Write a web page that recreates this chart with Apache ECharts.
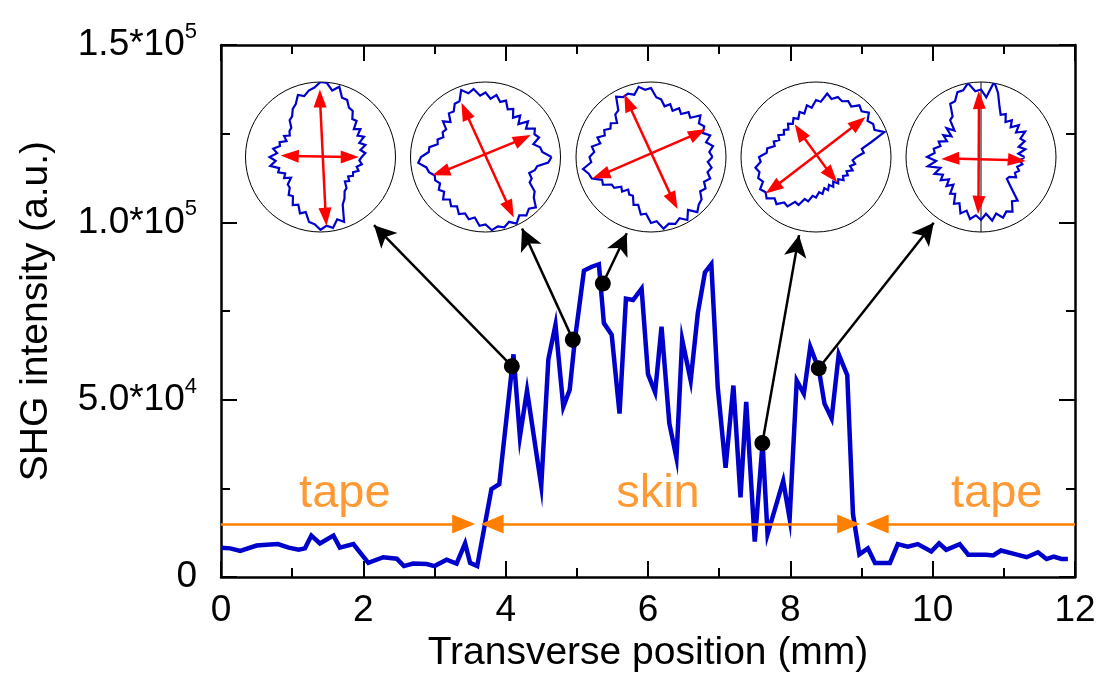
<!DOCTYPE html>
<html>
<head>
<meta charset="utf-8">
<script src="https://cdn.jsdelivr.net/npm/echarts@6/dist/echarts.min.js"></script>
<style>html,body{margin:0;padding:0;background:#fff}#c{width:1099px;height:678px}</style>
</head>
<body>
<div id="c"></div>
<script>
// ---------- main trace ----------
const positionMm = [0.00,0.13,0.27,0.50,0.64,0.80,0.95,1.09,1.18,1.27,1.39,1.58,1.67,1.86,2.07,2.28,2.47,2.57,2.70,2.89,3.00,3.17,3.31,3.43,3.50,3.60,3.80,3.91,4.11,4.20,4.30,4.50,4.60,4.70,4.81,4.90,4.97,5.10,5.21,5.31,5.38,5.49,5.60,5.69,5.79,5.91,6.00,6.10,6.19,6.30,6.40,6.48,6.60,6.70,6.80,6.89,6.98,7.09,7.20,7.30,7.38,7.50,7.61,7.68,7.90,7.99,8.09,8.19,8.28,8.40,8.48,8.58,8.68,8.80,8.88,8.97,9.09,9.19,9.40,9.51,9.65,9.79,9.98,10.09,10.19,10.38,10.50,10.75,10.85,10.96,11.13,11.32,11.48,11.60,11.70,11.81,11.90];
const shgIntensity = [8300,8100,7400,8900,9100,9300,8300,7700,8100,11700,9500,11700,8300,9300,4000,5600,5200,3100,3800,3700,3100,4900,3800,9500,4000,3100,24800,26200,62800,39600,52600,25700,61400,71100,48000,52800,66500,86400,87500,88200,71600,68300,46100,78500,78100,81300,57200,52100,70600,43300,33600,66900,55400,74400,85900,88200,53500,30800,54000,22500,49400,10000,37800,12100,27100,16500,55400,51700,64900,58600,48900,44700,62800,56900,17800,6400,8100,4000,4000,9300,8600,9300,7200,9500,7700,9300,6300,6300,6100,7500,6600,5600,7000,5100,5800,5100,5100];

// ---------- axis tick labels ----------
const xTickLabels = ['0','2','4','6','8','10','12'];
const yTickValues = [0, 50000, 100000, 150000];
const yTickMantissa = ['0', '5.0*10', '1.0*10', '1.5*10'];
const yTickExponent = ['', '4', '5', '5'];
const xAxisTitle = 'Transverse position (mm)';
const yAxisTitle = 'SHG intensity (a.u.)';

// ---------- region annotations ----------
const regionNames = ['tape', 'skin', 'tape'];
const regionLabelX = [1.74, 6.14, 10.9];
const regionLabelY = [23300, 23300, 23300];
const regionLevel = 15000;
// [startX, endX, startArrow, endArrow]
const regionSpans = [[0, 3.41, 0, 1], [3.81, 8.82, 1, 1], [9.22, 12, 1, 0]];

// ---------- callouts: dot on trace -> inset ----------
const calloutFrom = [[4.087, 59440], [4.944, 66940], [5.365, 82780], [7.607, 37780], [8.399, 58890]];
const calloutTo = [[2.150, 99200], [4.230, 98300], [5.702, 96950], [8.122, 96400], [10.015, 99900]];

// ---------- polar insets ----------
const insetAngles = [0,5,10,15,20,25,30,35,40,45,50,55,60,65,70,75,80,85,90,95,100,105,110,115,120,125,130,135,140,145,150,155,160,165,170,175,180,185,190,195,200,205,210,215,220,225,230,235,240,245,250,255,260,265,270,275,280,285,290,295,300,305,310,315,320,325,330,335,340,345,350,355];
const inset1Radius = [.55,.6,.54,.62,.55,.64,.57,.65,.58,.68,.66,.75,.76,.84,.84,.97,.9,.99,1.0,.93,.9,.84,.88,.78,.74,.66,.64,.55,.54,.5,.56,.5,.58,.56,.64,.58,.68,.6,.68,.57,.6,.52,.56,.48,.57,.58,.66,.64,.74,.7,.8,.76,.88,.9,.97,.92,.96,.86,.92,.7,.64,.56,.54,.46,.5,.45,.5,.48,.54,.5,.56,.52];
const inset2Radius = [.88,.76,.74,.66,.76,.72,.76,.66,.74,.62,.72,.64,.74,.7,.8,.76,.84,.78,.86,.82,.92,.88,.95,.82,.82,.74,.76,.66,.74,.64,.66,.62,.68,.66,.76,.76,.86,.9,.8,.78,.72,.74,.7,.76,.72,.8,.74,.8,.76,.84,.8,.86,.82,.92,.9,.98,.94,.97,.92,.98,.9,.95,.9,.95,.84,.8,.68,.68,.62,.68,.7,.84];
const inset3Radius = [.82,.78,.84,.76,.84,.76,.82,.78,.86,.74,.78,.7,.75,.68,.75,.7,.78,.8,.92,.9,.95,.86,.9,.88,.93,.76,.74,.64,.7,.66,.72,.68,.76,.7,.8,.76,.82,.8,.92,.86,.84,.72,.74,.64,.64,.56,.6,.53,.58,.57,.68,.66,.78,.76,.88,.86,.97,.92,.95,.9,.97,.86,.96,.9,.88,.8,.84,.78,.84,.78,.82,.76];
const inset4Radius = [.54,.64,.62,.76,.97,.86,.88,.84,.92,.86,.9,.82,.86,.82,.85,.8,.86,.74,.76,.66,.7,.6,.64,.56,.6,.54,.58,.52,.56,.52,.58,.54,.6,.57,.66,.66,.76,.74,.82,.78,.82,.78,.86,.82,.86,.78,.82,.74,.76,.66,.68,.58,.6,.52,.54,.47,.5,.43,.47,.41,.46,.4,.46,.42,.48,.44,.49,.45,.52,.47,.53,.49];
const inset5Radius = [.58,.5,.6,.52,.62,.58,.68,.57,.66,.56,.64,.57,.66,.62,.72,.88,1.02,.8,.9,.88,1.0,.92,.92,.82,.82,.66,.64,.5,.6,.48,.58,.5,.6,.56,.64,.62,.72,.6,.72,.56,.66,.56,.62,.52,.6,.52,.64,.6,.72,.68,.8,.74,.84,.78,.84,.76,.86,.78,.86,.8,.84,.72,.76,.56,.45,.46,.54,.5,.54,.5,.56,.52];
const insetRadii = [inset1Radius, inset2Radius, inset3Radius, inset4Radius, inset5Radius];
// double-headed polarisation arrows per inset: [[r, angle], [r, angle]]
const insetArrows = [
  [[[0.78, 90.5], [0.80, 275]], [[0.41, 178], [0.39, 0]]],
  [[[0.67, 114], [0.77, 295]], [[0.63, 199], [0.55, 26]]],
  [[[0.79, 113], [0.66, 297]], [[0.71, 200], [0.70, 27]]],
  [[[0.71, 216], [0.73, 39]], [[0.40, 123], [0.32, 310]]],
  [[[0.76, 92], [0.64, 267]], [[0.41, 183], [0.48, 355]]]
];
const inset5Reference = [[1, 90], [1, 270]];

// ---------- build option ----------
const FONT = 'Liberation Sans, Arial, Helvetica, sans-serif';
const BLUE = '#0000cc', ORANGE = '#ff8000', RED = '#ff0000';
const insetCenters = [[320.5, 157], [485.5, 157], [651, 157], [816, 157], [981, 157]];

const baseX = {
  type: 'value', min: 0, max: 12, interval: 2,
  axisLine: { show: true, onZero: false, lineStyle: { color: '#000', width: 2.5 } },
  axisTick: { show: true, inside: true, length: 16, lineStyle: { color: '#000', width: 2 } },
  minorTick: { show: true, splitNumber: 2, length: 9, lineStyle: { color: '#000', width: 2 } },
  splitLine: { show: false }, minorSplitLine: { show: false }
};
const baseY = {
  type: 'value', min: 0, max: 150000, interval: 50000,
  axisLine: { show: true, onZero: false, lineStyle: { color: '#000', width: 2.5 } },
  axisTick: { show: true, inside: true, length: 16, lineStyle: { color: '#000', width: 2 } },
  minorTick: { show: true, splitNumber: 2, length: 9, lineStyle: { color: '#000', width: 2 } },
  splitLine: { show: false }, minorSplitLine: { show: false }
};

const series = [];
series.push({
  type: 'line', name: 'SHG', xAxisIndex: 0, yAxisIndex: 0, z: 2,
  data: positionMm.map((x, i) => [x, shgIntensity[i]]),
  showSymbol: false, lineStyle: { color: BLUE, width: 4.5, join: 'miter' }, itemStyle: { color: BLUE },
  silent: true,
  markLine: {
    silent: true, z: 4, animation: false,
    lineStyle: { color: '#000', width: 2.5, type: 'solid' },
    itemStyle: { color: '#000' },
    label: { show: false }, emphasis: { disabled: true },
    data: calloutFrom.map((f, i) => [
      { coord: f, symbol: 'circle', symbolSize: 16 },
      { coord: calloutTo[i], symbol: 'arrow', symbolSize: [17, 22] }
    ])
  }
});
series.push({
  type: 'line', name: 'regions', xAxisIndex: 0, yAxisIndex: 0, data: [], silent: true,
  markLine: {
    silent: true, z: 3, animation: false,
    lineStyle: { color: ORANGE, width: 2.5, type: 'solid' },
    itemStyle: { color: ORANGE },
    label: { show: false }, emphasis: { disabled: true },
    data: regionSpans.map(s => [
      { coord: [s[0], regionLevel], symbol: s[2] ? 'triangle' : 'none', symbolSize: [19, 23] },
      { coord: [s[1], regionLevel], symbol: s[3] ? 'triangle' : 'none', symbolSize: [19, 23] }
    ])
  }
});
series.push({
  type: 'scatter', name: 'regionLabels', xAxisIndex: 0, yAxisIndex: 0, silent: true,
  symbolSize: 0,
  data: regionLabelX.map((x, i) => [x, regionLabelY[i]]),
  label: {
    show: true, position: 'inside', formatter: p => regionNames[p.dataIndex],
    color: ORANGE, fontSize: 47, fontFamily: FONT, align: 'center', verticalAlign: 'middle'
  }
});

const polar = [], angleAxis = [], radiusAxis = [];
insetCenters.forEach((c, k) => {
  polar.push({ center: c, radius: 75 });
  angleAxis.push({
    polarIndex: k, type: 'value', min: 0, max: 360, startAngle: 0, clockwise: false,
    axisLine: { show: true, lineStyle: { color: '#000', width: 1 } },
    axisTick: { show: false }, axisLabel: { show: false }, splitLine: { show: false }
  });
  radiusAxis.push({ polarIndex: k, type: 'value', min: 0, max: 1, show: false,
    axisLine: { show: false }, splitLine: { show: false } });
  const r = insetRadii[k];
  const pts = insetAngles.map((a, i) => [r[i], a]);
  pts.push(pts[0]);
  series.push({
    type: 'line', coordinateSystem: 'polar', polarIndex: k, silent: true, z: 5,
    data: pts, showSymbol: false, lineStyle: { color: BLUE, width: 2.2, join: 'miter' }
  });
  insetArrows[k].forEach(arr => {
    series.push({
      type: 'line', coordinateSystem: 'polar', polarIndex: k, silent: true, z: 6,
      data: arr.map(p => ({ value: p, symbolRotate: p[1] - 90 })),
      showSymbol: true, showAllSymbol: true, symbol: 'triangle', symbolSize: [13, 18],
      lineStyle: { color: RED, width: 2.5 }, itemStyle: { color: RED }
    });
  });
  if (k === 4) {
    series.push({
      type: 'line', coordinateSystem: 'polar', polarIndex: k, silent: true, z: 4,
      data: inset5Reference, showSymbol: false, lineStyle: { color: '#000', width: 1 }
    });
  }
});

const option = {
  animation: false,
  backgroundColor: '#fff',
  textStyle: { fontFamily: FONT },
  grid: { left: 221, right: 24, top: 45, bottom: 92, containLabel: false },
  xAxis: [
    Object.assign({}, baseX, {
      position: 'bottom',
      name: xAxisTitle, nameLocation: 'middle', nameGap: 50,
      nameTextStyle: { fontSize: 39, color: '#000', fontFamily: FONT },
      axisLabel: { show: true, margin: 15, fontSize: 37, color: '#000', fontFamily: FONT,
        formatter: v => xTickLabels[Math.round(v / 2)] }
    }),
    Object.assign({}, baseX, { position: 'top', axisLabel: { show: false } })
  ],
  yAxis: [
    Object.assign({}, baseY, {
      position: 'left',
      name: yAxisTitle, nameLocation: 'middle', nameGap: 165, nameRotate: 90,
      nameTextStyle: { fontSize: 39, color: '#000', fontFamily: FONT },
      axisLabel: {
        show: true, margin: 24, color: '#000', fontFamily: FONT,
        formatter: v => {
          const i = yTickValues.indexOf(v);
          if (i < 0) return '';
          return yTickExponent[i] ? '{m|' + yTickMantissa[i] + '}{e|' + yTickExponent[i] + '}' : '{m|' + yTickMantissa[i] + '}';
        },
        rich: {
          m: { fontSize: 37, lineHeight: 48, color: '#000', fontFamily: FONT },
          e: { fontSize: 22, lineHeight: 12, verticalAlign: 'top', color: '#000', fontFamily: FONT }
        }
      }
    }),
    Object.assign({}, baseY, { position: 'right', axisLabel: { show: false } })
  ],
  polar: polar,
  angleAxis: angleAxis,
  radiusAxis: radiusAxis,
  series: series
};

const chart = echarts.init(document.getElementById('c'), null, { renderer: 'canvas' });
chart.setOption(option);
</script>
</body>
</html>
